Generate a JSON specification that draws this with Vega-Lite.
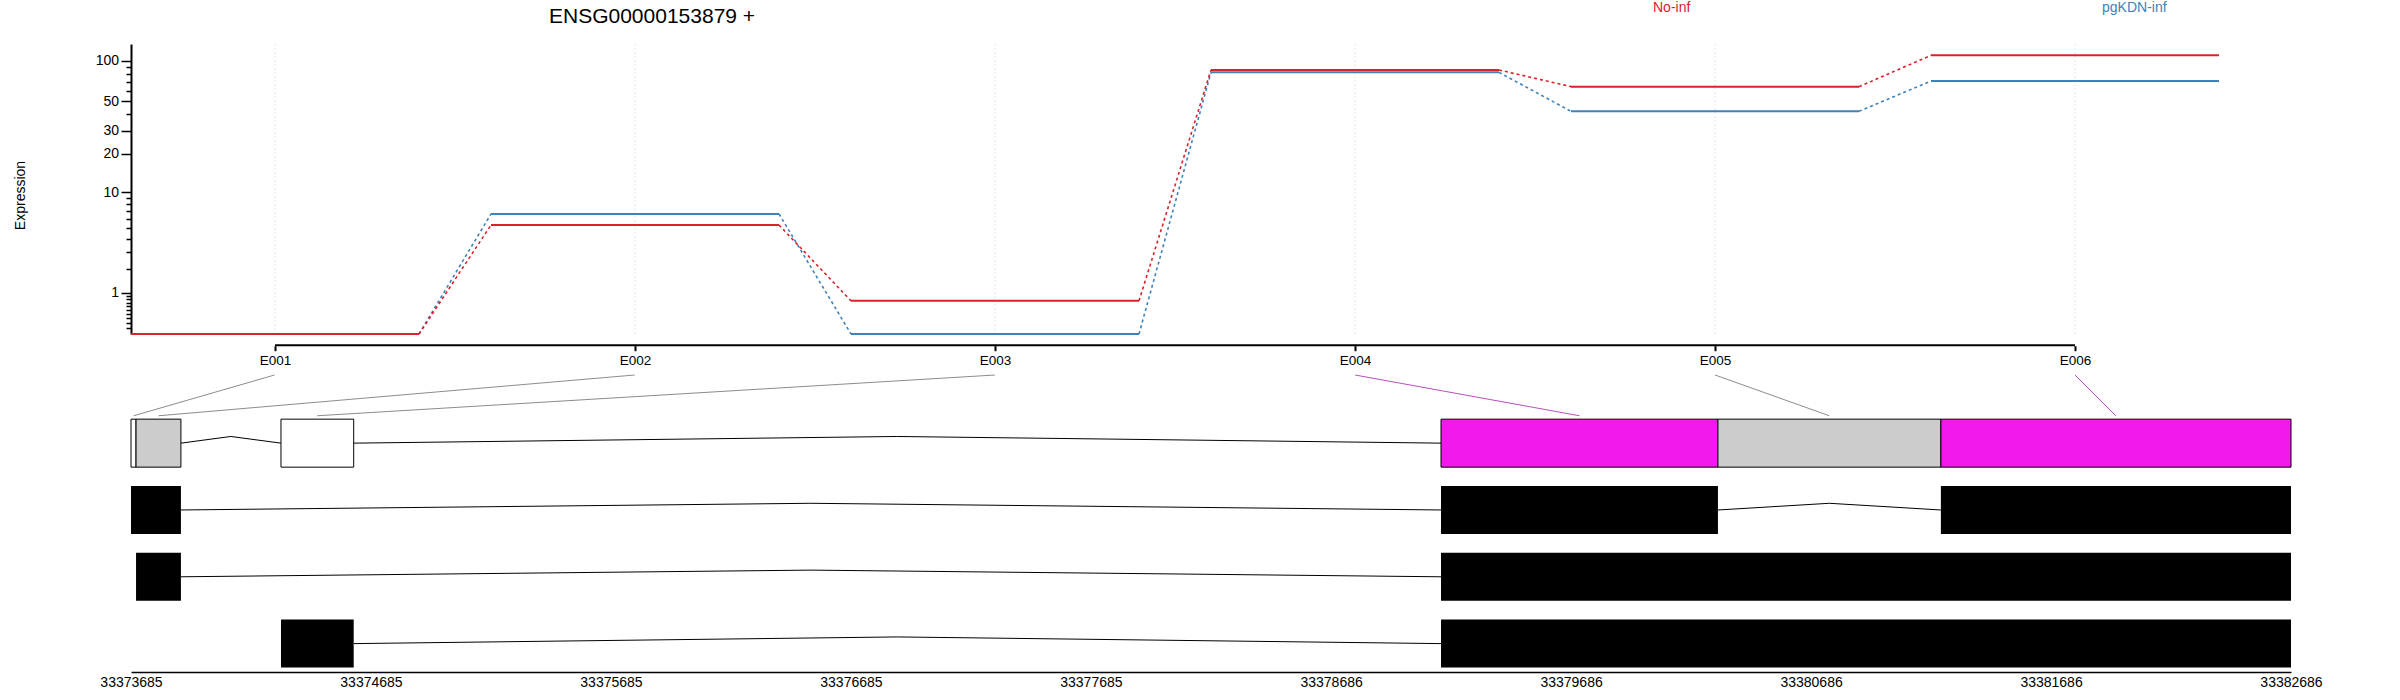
{
  "$schema": "https://vega.github.io/schema/vega-lite/v6.json",
  "width": 2160,
  "height": 628,
  "autosize": {"type": "none"},
  "padding": {"left": 131, "top": 44, "right": 109, "bottom": 28},
  "title": {"text": "ENSG00000153879 +", "anchor": "start", "frame": "group", "dx": 418, "dy": 26, "offset": 0, "fontSize": 21, "fontWeight": "normal", "font": "Liberation Sans", "color": "black"},
  "config": {
    "font": "Liberation Sans",
    "view": {"stroke": null},
    "axis": {"grid": false, "labelColor": "black", "tickColor": "black", "domainColor": "black", "titleColor": "black", "titleFontWeight": "normal", "labelFont": "Liberation Sans", "titleFont": "Liberation Sans", "labelOverlap": false}
  },
  "datasets": {
    "exons": [
      {"exon": "E001", "idx": 1, "start": 33373685, "end": 33373706, "status": "untested", "labelG": 33374283, "midG": 33373696},
      {"exon": "E002", "idx": 2, "start": 33373706, "end": 33373893, "status": "tested", "labelG": 33375784, "midG": 33373800},
      {"exon": "E003", "idx": 3, "start": 33374310, "end": 33374613, "status": "untested", "labelG": 33377285, "midG": 33374461},
      {"exon": "E004", "idx": 4, "start": 33379144, "end": 33380298, "status": "significant", "labelG": 33378786, "midG": 33379721},
      {"exon": "E005", "idx": 5, "start": 33380298, "end": 33381227, "status": "tested", "labelG": 33380286, "midG": 33380762},
      {"exon": "E006", "idx": 6, "start": 33381227, "end": 33382686, "status": "significant", "labelG": 33381786, "midG": 33381956}
    ],
    "expr": [
      {"cond": "pgKDN-inf", "idx": 1, "value": 0},
      {"cond": "pgKDN-inf", "idx": 2, "value": 6.6},
      {"cond": "pgKDN-inf", "idx": 3, "value": 0},
      {"cond": "pgKDN-inf", "idx": 4, "value": 82.0},
      {"cond": "pgKDN-inf", "idx": 5, "value": 42.0},
      {"cond": "pgKDN-inf", "idx": 6, "value": 70.7},
      {"cond": "No-inf", "idx": 1, "value": 0},
      {"cond": "No-inf", "idx": 2, "value": 5.3},
      {"cond": "No-inf", "idx": 3, "value": 0.75},
      {"cond": "No-inf", "idx": 4, "value": 85.4},
      {"cond": "No-inf", "idx": 5, "value": 64.2},
      {"cond": "No-inf", "idx": 6, "value": 109.6}
    ],
    "tx": [
      {"tx": 1, "row": 3, "start": 33373685, "end": 33373893},
      {"tx": 1, "row": 3, "start": 33379144, "end": 33380298},
      {"tx": 1, "row": 3, "start": 33381227, "end": 33382686},
      {"tx": 2, "row": 2, "start": 33373706, "end": 33373893},
      {"tx": 2, "row": 2, "start": 33379144, "end": 33382686},
      {"tx": 3, "row": 1, "start": 33374310, "end": 33374613},
      {"tx": 3, "row": 1, "start": 33379144, "end": 33382686}
    ],
    "introns": [
      {"id": "b1", "g": 33373893, "y": 4}, {"id": "b1", "g": 33374101, "y": 4.1}, {"id": "b1", "g": 33374310, "y": 4},
      {"id": "b2", "g": 33374613, "y": 4}, {"id": "b2", "g": 33376878, "y": 4.1}, {"id": "b2", "g": 33379144, "y": 4},
      {"id": "t1a", "g": 33373893, "y": 3}, {"id": "t1a", "g": 33376518, "y": 3.1}, {"id": "t1a", "g": 33379144, "y": 3},
      {"id": "t1b", "g": 33380298, "y": 3}, {"id": "t1b", "g": 33380762, "y": 3.1}, {"id": "t1b", "g": 33381227, "y": 3},
      {"id": "t2a", "g": 33373893, "y": 2}, {"id": "t2a", "g": 33376518, "y": 2.1}, {"id": "t2a", "g": 33379144, "y": 2},
      {"id": "t3a", "g": 33374613, "y": 1}, {"id": "t3a", "g": 33376878, "y": 1.1}, {"id": "t3a", "g": 33379144, "y": 1}
    ]
  },
  "layer": [
    {
      "data": {"name": "exons"},
      "mark": {"type": "rule", "color": "#e6e6e6", "strokeWidth": 1, "strokeDash": [2, 2]},
      "encoding": {
        "x": {"field": "idx", "type": "quantitative",
          "scale": {"domain": [0.6, 6.6], "nice": false, "zero": false}, "axis": null},
        "y": {"datum": 0, "type": "quantitative",
          "scale": {"type": "symlog", "constant": 1, "domain": [0, 133], "range": [290, 0], "nice": false, "zero": false},
          "axis": {"orient": "left", "values": [0.1, 0.2, 0.3, 0.4, 0.5, 0.6, 0.7, 0.8, 0.9, 2, 3, 4, 5, 6, 7, 8, 9, 40, 60, 70, 80, 90],
            "labels": false, "domain": false, "tickSize": 5, "tickWidth": 1.5, "title": null, "grid": false}},
        "y2": {"datum": 133}
      }
    },
    {
      "layer": [
        {
          "data": {"name": "exons"},
          "mark": {"type": "rule", "color": "black", "strokeWidth": 2},
          "encoding": {
            "x": {"datum": 1, "type": "quantitative",
              "scale": {"domain": [0.6, 6.6], "nice": false, "zero": false},
              "axis": {"orient": "bottom", "offset": -326.3, "values": [1, 2, 3, 4, 5, 6], "labelExpr": "'E00' + datum.value", "domain": false, "tickSize": 5, "tickWidth": 2, "labelFontSize": 13.5, "labelPadding": 3, "title": null, "grid": false, "labelFlush": false, "labelOverlap": false}},
            "x2": {"datum": 6},
            "y": {"datum": -0.21, "type": "quantitative",
              "scale": {"type": "symlog", "constant": 1, "domain": [0, 133], "range": [290, 0], "nice": false, "zero": false},
              "axis": {"orient": "left", "values": [1, 10, 20, 30, 50, 100], "format": "d",
                "labelFontSize": 14, "labelPadding": 2.5, "tickSize": 10, "tickWidth": 1.5, "domainWidth": 2, "labelOverlap": false, "labelFlush": false, "labelBound": false, "grid": false,
                "title": "Expression", "titleFontSize": 14, "titleX": -110.6, "titleY": 151, "titleAngle": -90, "titleAlign": "center", "titleBaseline": "middle"}}
          },
          "transform": [{"filter": "datum.idx == 1"}]
        },
        {
          "data": {"name": "expr"},
          "transform": [
            {"window": [{"op": "lead", "field": "value", "as": "nextValue"}, {"op": "lead", "field": "idx", "as": "nextIdx"}], "groupby": ["cond"], "sort": [{"field": "idx", "order": "ascending"}]},
            {"filter": "datum.nextIdx != null"}
          ],
          "mark": {"type": "rule", "strokeWidth": 1.6, "strokeDash": [3, 3], "xOffset": 144, "x2Offset": -144},
          "encoding": {
            "x": {"field": "idx", "type": "quantitative"},
            "x2": {"field": "nextIdx"},
            "y": {"field": "value", "type": "quantitative"},
            "y2": {"field": "nextValue"},
            "color": {"field": "cond", "type": "nominal"}
          }
        },
        {
          "data": {"name": "expr"},
          "mark": {"type": "rule", "strokeWidth": 2, "xOffset": -144, "x2Offset": 144},
          "encoding": {
            "x": {"field": "idx", "type": "quantitative"},
            "x2": {"field": "idx"},
            "y": {"field": "value", "type": "quantitative"},
            "color": {"field": "cond", "type": "nominal",
              "scale": {"domain": ["No-inf", "pgKDN-inf"], "range": ["#DB2129", "#3D82B9"]},
              "legend": {"orient": "none", "legendX": 1508, "legendY": -43, "direction": "horizontal", "title": null,
                "symbolSize": 0, "symbolStrokeWidth": 0, "symbolOpacity": 0, "labelOffset": 0, "columnPadding": 397,
                "labelFontSize": 14, "labelFont": "Liberation Sans",
                "encode": {"labels": {"update": {"fill": {"scale": "color", "field": "value"}}}}}}
          }
        }
      ]
    },
    {
      "layer": [
        {
          "data": {"name": "exons"},
          "mark": {"type": "rule", "strokeWidth": 1},
          "encoding": {
            "x": {"field": "labelG", "type": "quantitative",
              "scale": {"domain": [33373685, 33382686], "nice": false, "zero": false},
              "axis": {"orient": "bottom", "values": [33373685, 33374685, 33375685, 33376685, 33377685, 33378686, 33379686, 33380686, 33381686, 33382686], "format": "d", "ticks": false, "labelPadding": 3, "labelFontSize": 14, "domainWidth": 1.5, "title": null, "grid": false, "labelFlush": false, "labelOverlap": false}},
            "x2": {"field": "midG"},
            "y": {"datum": 5.02, "type": "quantitative",
              "scale": {"domain": [0.65, 5.02], "range": [628, 326], "nice": false, "zero": false},
              "axis": null},
            "y2": {"datum": 4.41},
            "stroke": {"condition": {"test": "datum.status == 'significant'", "value": "#B84FC0"}, "value": "#8c8c8c"}
          }
        },
        {
          "data": {"name": "introns"},
          "mark": {"type": "line", "color": "#000000", "strokeWidth": 1},
          "encoding": {
            "x": {"field": "g", "type": "quantitative"},
            "y": {"field": "y", "type": "quantitative"},
            "detail": {"field": "id"}
          }
        },
        {
          "data": {"name": "exons"},
          "mark": {"type": "bar", "orient": "horizontal", "size": 48, "stroke": "black", "strokeWidth": 1},
          "encoding": {
            "x": {"field": "start", "type": "quantitative"},
            "x2": {"field": "end"},
            "y": {"datum": 4, "type": "quantitative"},
            "fill": {"condition": [{"test": "datum.status == 'significant'", "value": "#F219ED"}, {"test": "datum.status == 'tested'", "value": "#CCCCCC"}], "value": "white"}
          }
        },
        {
          "data": {"name": "tx"},
          "mark": {"type": "bar", "orient": "horizontal", "size": 48, "color": "black"},
          "encoding": {
            "x": {"field": "start", "type": "quantitative"},
            "x2": {"field": "end"},
            "y": {"field": "row", "type": "quantitative"}
          }
        }
      ]
    }
  ],
  "resolve": {"scale": {"x": "independent", "y": "independent"}}
}
